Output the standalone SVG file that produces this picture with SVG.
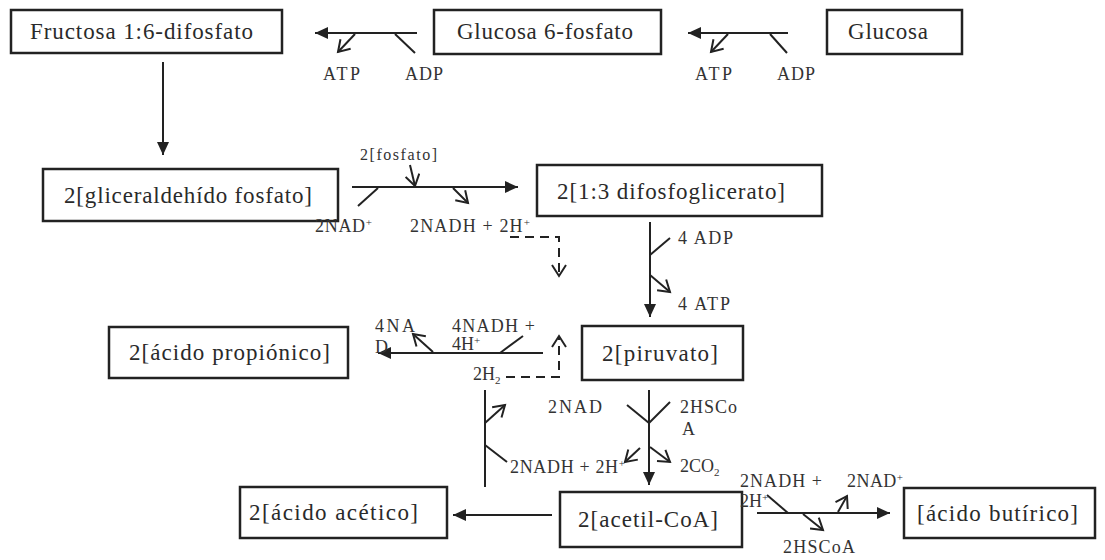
<svg xmlns="http://www.w3.org/2000/svg" width="1105" height="560" viewBox="0 0 1105 560">
<defs>
<style>
.box{fill:#fff;stroke:#222;stroke-width:2.5}
.bt{font-family:"Liberation Serif",serif;font-size:23px;fill:#2a2a2a}
.lt{font-family:"Liberation Serif",serif;font-size:18px;fill:#333}
.st{font-family:"Liberation Serif",serif;font-size:16px;fill:#333}
.ln{fill:none;stroke:#222;stroke-width:2}
.main{marker-end:url(#fa)}
.open{marker-end:url(#oa)}
.dash{stroke-dasharray:9,6}
</style>
<marker id="fa" markerUnits="userSpaceOnUse" markerWidth="14" markerHeight="12" refX="13" refY="6" orient="auto"><path d="M0,0 L13,6 L0,12 z" fill="#222"/></marker>
<marker id="oa" markerUnits="userSpaceOnUse" markerWidth="16" markerHeight="16" refX="12" refY="8" orient="auto"><path d="M1,1 L12,8 L1,15" fill="none" stroke="#222" stroke-width="2"/></marker>
</defs>
<rect width="1105" height="560" fill="#fff"/>

<g id="fructosa"><rect class="box" x="11" y="10" width="271" height="43"/><text class="bt" x="30" y="39" textLength="223">Fructosa 1:6-difosfato</text></g>
<g id="g6p"><rect class="box" x="434" y="10" width="227" height="44"/><text class="bt" x="457" y="39" textLength="176">Glucosa 6-fosfato</text></g>
<g id="glucosa"><rect class="box" x="827" y="10" width="135" height="44"/><text class="bt" x="848" y="39" textLength="80">Glucosa</text></g>
<g id="gliceraldehido"><rect class="box" x="43" y="169" width="295" height="52"/><text class="bt" x="64" y="203" textLength="248">2[gliceraldehído fosfato]</text></g>
<g id="difosfoglicerato"><rect class="box" x="537" y="165" width="285" height="51"/><text class="bt" x="557" y="199" textLength="228">2[1:3 difosfoglicerato]</text></g>
<g id="propionico"><rect class="box" x="109" y="327" width="239" height="51"/><text class="bt" x="129" y="360" textLength="201">2[ácido propiónico]</text></g>
<g id="piruvato"><rect class="box" x="582" y="326" width="161" height="54"/><text class="bt" x="602" y="361" textLength="116">2[piruvato]</text></g>
<g id="acetico"><rect class="box" x="240" y="487" width="207" height="51"/><text class="bt" x="249" y="520" textLength="169">2[ácido acético]</text></g>
<g id="acetilcoa"><rect class="box" x="560" y="492" width="182" height="55"/><text class="bt" x="578" y="527" textLength="140">2[acetil-CoA]</text></g>
<g id="butirico"><rect class="box" x="904" y="488" width="191" height="50"/><text class="bt" x="917" y="521" textLength="161">[ácido butírico]</text></g>

<g id="connectors">
<line class="ln main" x1="788" y1="33" x2="688" y2="33"/>
<line class="ln" x1="770" y1="34" x2="787" y2="53"/>
<line class="ln open" x1="728" y1="34" x2="711" y2="52"/>
<line class="ln main" x1="417" y1="33" x2="315" y2="33"/>
<line class="ln" x1="395" y1="34" x2="415" y2="53"/>
<line class="ln open" x1="355" y1="34" x2="338" y2="52"/>
<line class="ln main" x1="163" y1="62" x2="163" y2="155"/>
<line class="ln main" x1="352" y1="187" x2="518" y2="187"/>
<line class="ln" x1="378" y1="188" x2="358" y2="206"/>
<line class="ln open" x1="410" y1="165" x2="415" y2="186"/>
<line class="ln open" x1="453" y1="188" x2="468" y2="203"/>
<polyline class="ln dash open" points="510,237 559,237 559,276"/>
<line class="ln main" x1="650" y1="222" x2="650" y2="317"/>
<line class="ln" x1="650" y1="255" x2="670" y2="238"/>
<line class="ln open" x1="650" y1="275" x2="670" y2="292"/>
<line class="ln main" x1="543" y1="353" x2="378" y2="353"/>
<line class="ln" x1="500" y1="353" x2="523" y2="336"/>
<line class="ln open" x1="433" y1="352" x2="413" y2="334"/>
<polyline class="ln dash open" points="506,377 559,377 559,336"/>
<line class="ln main" x1="649" y1="390" x2="649" y2="485"/>
<line class="ln" x1="627" y1="405" x2="649" y2="423"/>
<line class="ln" x1="649" y1="423" x2="670" y2="402"/>
<line class="ln open" x1="640" y1="448" x2="625" y2="462"/>
<line class="ln open" x1="650" y1="447" x2="670" y2="462"/>
<line class="ln" x1="485" y1="390" x2="485" y2="487"/>
<line class="ln open" x1="485" y1="423" x2="505" y2="405"/>
<line class="ln" x1="485" y1="445" x2="507" y2="462"/>
<line class="ln main" x1="552" y1="515" x2="453" y2="515"/>
<line class="ln main" x1="757" y1="513" x2="890" y2="513"/>
<line class="ln" x1="767" y1="495" x2="788" y2="513"/>
<line class="ln open" x1="803" y1="514" x2="823" y2="530"/>
<line class="ln open" x1="838" y1="512" x2="847" y2="496"/>
</g>

<g id="labels">
<text class="lt" x="323" y="80" textLength="37">ATP</text>
<text class="lt" x="405" y="80" textLength="38">ADP</text>
<text class="lt" x="695" y="80" textLength="37">ATP</text>
<text class="lt" x="777" y="80" textLength="38">ADP</text>
<text class="st" x="360" y="160" textLength="77">2[fosfato]</text>
<text class="lt" x="315" y="232" textLength="57">2NAD<tspan font-size="11" dy="-6">+</tspan></text>
<text class="lt" x="410" y="232" textLength="120">2NADH + 2H<tspan font-size="11" dy="-6">+</tspan></text>
<text class="lt" x="678" y="244" textLength="55">4 ADP</text>
<text class="lt" x="678" y="310" textLength="52">4 ATP</text>
<text class="lt" x="375" y="332" textLength="40">4NA</text>
<text class="lt" x="375" y="353">D</text>
<text class="lt" x="452" y="332" textLength="83">4NADH +</text>
<text class="lt" x="452" y="350">4H<tspan font-size="11" dy="-6">+</tspan></text>
<text class="lt" x="473" y="380">2H<tspan font-size="11" dy="4">2</tspan></text>
<text class="lt" x="548" y="413" textLength="54">2NAD</text>
<text class="lt" x="680" y="413" textLength="57">2HSCo</text>
<text class="lt" x="682" y="435">A</text>
<text class="lt" x="510" y="473" textLength="115">2NADH + 2H<tspan font-size="11" dy="-6">+</tspan></text>
<text class="lt" x="680" y="472">2CO<tspan font-size="11" dy="4">2</tspan></text>
<text class="lt" x="740" y="487" textLength="82">2NADH +</text>
<text class="lt" x="740" y="507">2H<tspan font-size="11" dy="-6">+</tspan></text>
<text class="lt" x="847" y="487" textLength="56">2NAD<tspan font-size="11" dy="-6">+</tspan></text>
<text class="lt" x="783" y="553" textLength="72">2HSCoA</text>
</g>
</svg>
